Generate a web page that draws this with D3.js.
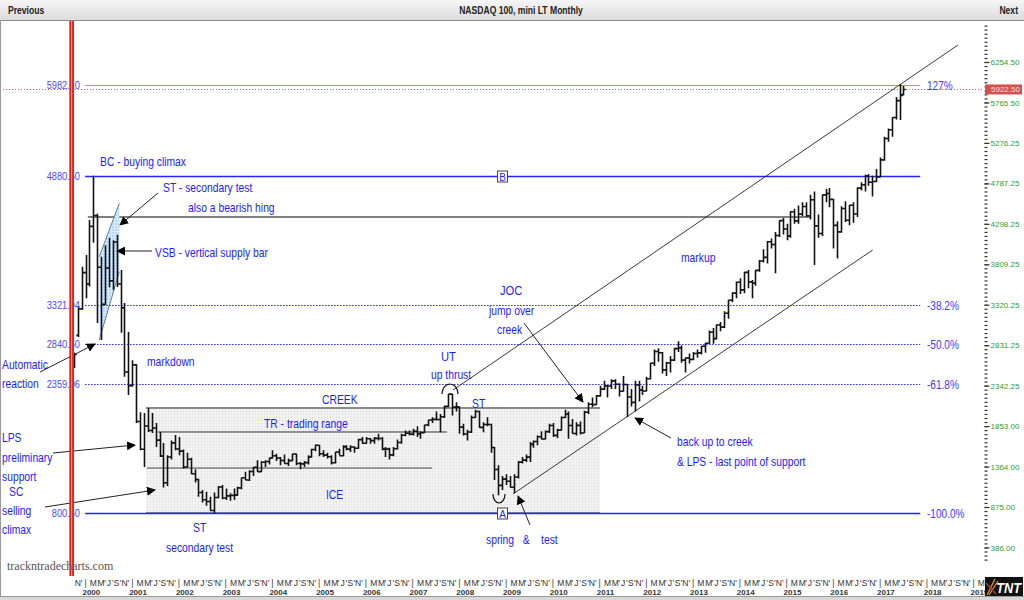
<!DOCTYPE html>
<html>
<head>
<meta charset="utf-8">
<script src="https://cdn.jsdelivr.net/npm/d3@7"></script>
<style>
body{margin:0;background:#fff;overflow:hidden}
svg{display:block}
</style>
</head>
<body>
<svg id="chart" width="1024" height="600"></svg>
<script>
// months counted from Jan 2000 (Oct 1999 = -3)
const firstMonth = -3;

// monthly OHLC, Oct 1999 .. Jul 2017, one row per year
const opens = [
  2580,2950,3270,
  3708,3570,4267,4398,3774,3324,3764,3609,4078,3571,3283,2507,
  2342,2593,1908,1573,1855,1800,1830,1684,1490,1168,1480,1650,
  1577,1550,1359,1452,1277,1208,1051,962,942,833,989,1117,
  984,1010,1016,1018,1106,1228,1201,1304,1355,1303,1416,1425,
  1468,1494,1467,1438,1400,1436,1516,1401,1396,1412,1480,1571,
  1621,1519,1502,1483,1410,1539,1494,1605,1575,1601,1585,1690,
  1645,1700,1677,1704,1703,1575,1575,1505,1580,1655,1743,1767,
  1756,1791,1761,1772,1866,1926,1934,1932,1966,2092,2239,2082,
  2085,1841,1758,1781,1957,2029,1837,1872,1872,1594,1329,1136,
  1212,1187,1113,1237,1418,1442,1478,1632,1666,1724,1697,1786,
  1860,1741,1804,1957,2000,1860,1764,1862,1770,2020,2117,2112,
  2218,2300,2340,2338,2400,2358,2274,2355,2205,2140,2350,2290,
  2278,2426,2612,2755,2739,2533,2616,2650,2790,2800,2650,2678,
  2660,2730,2738,2818,2855,2988,2910,3076,3049,3218,3375,3460,
  3592,3500,3711,3596,3580,3736,3849,3893,4082,4049,4158,4337,
  4236,4152,4445,4334,4415,4508,4396,4589,4274,4181,4648,4665,
  4594,4279,4201,4483,4341,4523,4417,4730,4771,4875,4801,4810,
  4864,5071,5330,5436,5584,5788,5860
];
const highs = [
  2740,3295,3780,
  3920,4345,4880.5,4420,3900,4040,4130,4100,4165,3740,3340,2990,
  2650,2600,2020,2010,2072,2011,1890,1782,1649,1500,1680,1745,
  1720,1570,1530,1470,1330,1215,1080,1060,1000,1050,1130,1140,
  1100,1040,1100,1120,1230,1300,1320,1360,1440,1430,1440,1470,
  1560,1520,1480,1510,1460,1520,1520,1420,1430,1500,1580,1630,
  1625,1560,1530,1500,1540,1580,1620,1620,1620,1610,1700,1720,
  1720,1710,1720,1760,1720,1600,1590,1600,1690,1760,1800,1800,
  1820,1850,1790,1870,1930,1960,2030,2000,2100,2240,2240,2140,
  2090,1880,1810,1980,2050,2040,1900,1960,1880,1600,1380,1250,
  1270,1250,1270,1430,1480,1510,1660,1680,1740,1790,1800,1880,
  1890,1820,1970,2050,2030,1940,1900,1910,2040,2140,2200,2230,
  2340,2400,2350,2420,2420,2370,2460,2360,2300,2400,2400,2340,
  2450,2620,2780,2795,2750,2630,2700,2800,2880,2830,2680,2730,
  2750,2780,2820,2860,3010,3040,3080,3110,3240,3380,3470,3600,
  3640,3720,3740,3620,3740,3860,3990,4090,4120,4200,4340,4370,
  4300,4450,4480,4520,4560,4560,4650,4690,4410,4650,4720,4730,
  4600,4330,4510,4570,4530,4560,4740,4800,4890,4900,4880,4960,
  5100,5350,5450,5590,5830,5985,5965
];
const lows = [
  2555,2930,3260,
  3400,3540,4070,3100,2895,3320,3530,3500,3535,2980,2450,2230,
  2330,1890,1560,1360,1782,1770,1600,1480,1110,1130,1450,1560,
  1500,1340,1350,1270,1170,1000,930,890,830,800.5,980,970,
  960,950,960,1010,1090,1200,1190,1250,1300,1300,1360,1390,
  1460,1430,1380,1400,1370,1430,1380,1330,1360,1390,1470,1550,
  1490,1480,1460,1390,1400,1500,1490,1560,1540,1530,1580,1640,
  1640,1640,1640,1680,1560,1480,1450,1490,1570,1640,1730,1740,
  1740,1720,1700,1770,1850,1890,1920,1780,1950,2080,1980,2030,
  1760,1740,1680,1770,1950,1830,1780,1850,1530,1200,1018,1080,
  1140,1110,1043,1220,1400,1420,1420,1590,1620,1690,1690,1770,
  1720,1710,1800,1950,1700,1760,1740,1750,1770,2000,2080,2110,
  2210,2290,2200,2300,2300,2210,2270,1960,2090,2030,2150,2230,
  2270,2420,2580,2630,2490,2460,2500,2640,2750,2620,2500,2610,
  2650,2680,2720,2740,2850,2850,2900,3000,3040,3150,3350,3400,
  3450,3460,3520,3400,3550,3720,3830,3820,4000,3700,4140,4170,
  4100,4130,4300,4300,4390,4380,4350,3800,4130,4150,4560,4500,
  4000,3880,4190,4320,4280,4310,4380,4700,4690,4760,4630,4800,
  4860,5060,5290,5350,5560,5553,5850
];
const closes = [
  2720,3270,3708,
  3570,4267,4398,3774,3324,3764,3609,4078,3571,3283,2507,2342,
  2593,1908,1573,1855,1800,1830,1684,1490,1168,1480,1650,1577,
  1550,1359,1452,1277,1208,1051,962,942,833,989,1117,984,
  1010,1016,1018,1106,1228,1201,1304,1355,1303,1416,1425,1468,
  1494,1467,1438,1400,1436,1516,1401,1396,1412,1480,1571,1621,
  1519,1502,1483,1410,1539,1494,1605,1575,1601,1585,1690,1645,
  1700,1677,1704,1703,1575,1575,1505,1580,1655,1743,1767,1756,
  1791,1761,1772,1866,1926,1934,1932,1966,2092,2239,2082,2085,
  1841,1758,1781,1957,2029,1837,1872,1872,1594,1329,1136,1212,
  1187,1113,1237,1418,1442,1478,1632,1666,1724,1697,1786,1860,
  1741,1804,1957,2000,1860,1764,1862,1770,2020,2117,2112,2218,
  2300,2340,2338,2400,2358,2274,2355,2205,2140,2350,2290,2278,
  2426,2612,2755,2739,2533,2616,2650,2790,2800,2650,2678,2660,
  2730,2738,2818,2855,2988,2910,3076,3049,3218,3375,3460,3592,
  3500,3711,3596,3580,3736,3849,3893,4082,4049,4158,4337,4236,
  4152,4445,4334,4415,4508,4396,4589,4274,4181,4648,4665,4594,
  4279,4201,4483,4341,4523,4417,4730,4771,4875,4801,4810,4864,
  5071,5330,5436,5584,5788,5850,5922.5
];
const lastPrice = 5922.50;

// Fibonacci levels (price, left label, right label)
const fibLevels = [5982.10, 4880.50, 3321.94, 2840.50, 2359.06, 800.50];
const fibNames  = ["5982.10","4880.50","3321.94","2840.50","2359.06","800.50"];
const fibPcts   = ["127%", "", "-38.2%", "-50.0%", "-61.8%", "-100.0%"];

// right price axis
const axisTicks = [6254.50,5765.50,5276.25,4787.25,4298.25,3809.25,3320.25,2831.25,2342.25,1853.00,1364.00,875.00,386.00];

// time axis
const monthMarks = ["|","","M","","M","'","J","'","S","'","N","'"];
const years = d3.range(2000, 2020);

const bars = opens.map((o, i) => ({
  m: firstMonth + i, o: o, h: highs[i], l: lows[i], c: closes[i]
}));

const svg = d3.select("#chart");
const x = d3.scaleLinear().domain([0, 12]).range([85.5, 85.5 + 46.74]);
const y = d3.scaleLinear().domain([875, 6254.5]).range([507, 62]);

const defs = svg.append("defs");
const hg = defs.append("linearGradient").attr("id","hdr").attr("x1",0).attr("y1",0).attr("x2",0).attr("y2",1);
hg.append("stop").attr("offset","0%").attr("stop-color","#f6f6f6");
hg.append("stop").attr("offset","100%").attr("stop-color","#dcdcdc");

const grey = defs.append("pattern").attr("id","trgrid").attr("width",3).attr("height",3)
  .attr("patternUnits","userSpaceOnUse");
grey.append("rect").attr("width",3).attr("height",3).attr("fill","#f5f5f5");
grey.append("path").attr("d","M0,0.5H3M0.5,0V3").attr("stroke","#e4e4e4").attr("stroke-width",0.6);

const blue = defs.append("pattern").attr("id","vsbgrid").attr("width",3).attr("height",3)
  .attr("patternUnits","userSpaceOnUse");
blue.append("rect").attr("width",3).attr("height",3).attr("fill","#b4d8ff");
blue.append("path").attr("d","M0,0.5H3M0.5,0V3").attr("stroke","#e8f3ff").attr("stroke-width",0.7);

const mk = defs.append("marker").attr("id","arrow").attr("viewBox","0 0 10 10")
  .attr("refX",9).attr("refY",5).attr("markerWidth",9).attr("markerHeight",9)
  .attr("orient","auto").attr("markerUnits","userSpaceOnUse");
mk.append("path").attr("d","M0,0L10,5L0,10z").attr("fill","#000");

defs.append("clipPath").attr("id","plotclip").append("rect")
  .attr("x",1).attr("y",21).attr("width",983).attr("height",555);

// narrow text helper: the reference uses condensed faces
function narrow(sel, tx, ty, str, font, fill, anchor, sx) {
  return sel.append("text")
    .attr("transform", `translate(${tx},${ty}) scale(${sx || 0.86},1)`)
    .attr("text-anchor", anchor || "start")
    .style("font", font).style("white-space","pre")
    .attr("fill", fill).text(str);
}

// frame + header
svg.append("rect").attr("width",1024).attr("height",600).attr("fill","#fff");
svg.append("rect").attr("width",1024).attr("height",20).attr("fill","url(#hdr)");
svg.append("line").attr("x1",0).attr("x2",1024).attr("y1",20.5).attr("y2",20.5).attr("stroke","#8a8a8a");
svg.append("rect").attr("x",0).attr("y",596).attr("width",1024).attr("height",4).attr("fill","#d8d8d8");
svg.append("line").attr("x1",0).attr("x2",1024).attr("y1",596.5).attr("y2",596.5).attr("stroke","#9a9a9a");
svg.append("line").attr("x1",0.5).attr("x2",0.5).attr("y1",20).attr("y2",597).attr("stroke","#9a9a9a");

const hdrFont = "bold 11px 'Liberation Sans',Arial,sans-serif";
narrow(svg, 8, 14, "Previous", hdrFont, "#222", "start", 0.78);
narrow(svg, 521, 14, "NASDAQ 100, mini LT Monthly", hdrFont, "#222", "middle", 0.78);
narrow(svg, 1018, 14, "Next", hdrFont, "#222", "end", 0.78);

const plot = svg.append("g").attr("clip-path","url(#plotclip)");

// trading range box
plot.append("rect")
  .attr("x", x(15.5)).attr("y", y(2072))
  .attr("width", x(132.1) - x(15.5)).attr("height", y(805) - y(2072))
  .attr("fill","url(#trgrid)");
plot.append("line").attr("x1",x(15.5)).attr("x2",x(132.1)).attr("y1",y(2072)).attr("y2",y(2072))
  .attr("stroke","#222").attr("stroke-width",1);
plot.append("line").attr("x1",x(15.5)).attr("x2",x(132.1)).attr("y1",y(805)).attr("y2",y(805))
  .attr("stroke","#666").attr("stroke-width",1);
plot.append("line").attr("x1",x(18.6)).attr("x2",x(92.8)).attr("y1",y(1782)).attr("y2",y(1782))
  .attr("stroke","#333").attr("stroke-width",1);
plot.append("line").attr("x1",x(15.8)).attr("x2",x(89)).attr("y1",y(1346)).attr("y2",y(1346))
  .attr("stroke","#444").attr("stroke-width",1);

// bearish hinge line
plot.append("line").attr("x1",x(0.6)).attr("x2",x(186)).attr("y1",y(4381)).attr("y2",y(4381))
  .attr("stroke","#555").attr("stroke-width",1.3);

// VSB parallelogram
const vsb = [[3.54,3901],[8.68,4546],[8.68,3720],[3.54,2894]];
plot.append("path")
  .attr("d", "M" + vsb.map(p => x(p[0]) + "," + y(p[1])).join("L") + "Z")
  .attr("fill","url(#vsbgrid)");
plot.append("line").attr("x1",x(3.54)).attr("y1",y(3901)).attr("x2",x(8.68)).attr("y2",y(4546))
  .attr("stroke","#3a5a8a").attr("stroke-width",0.8);
plot.append("line").attr("x1",x(3.54)).attr("y1",y(2894)).attr("x2",x(8.68)).attr("y2",y(3720))
  .attr("stroke","#3a5a8a").attr("stroke-width",0.8);

// fib lines
fibLevels.forEach((p, i) => {
  const solid = i === 1 || i === 5;
  plot.append("line")
    .attr("x1", x(-0.1)).attr("x2", x(214.3))
    .attr("y1", Math.round(y(p)) + 0.5).attr("y2", Math.round(y(p)) + 0.5)
    .attr("stroke", i === 0 ? "#9090ff" : "#2424ff")
    .attr("stroke-width", solid ? 1.3 : 1)
    .attr("stroke-dasharray", (i >= 2 && i <= 4) ? "1.5,1.5" : null);
});

// last price dotted line
plot.append("line").attr("x1",0).attr("x2",985)
  .attr("y1",Math.round(y(lastPrice)) + 0.5).attr("y2",Math.round(y(lastPrice)) + 0.5)
  .attr("stroke","#e04848").attr("stroke-width",0.9).attr("stroke-dasharray","1,2");

// channel lines
plot.append("line").attr("x1",x(94.35)).attr("y1",y(2289)).attr("x2",x(224)).attr("y2",y(6460))
  .attr("stroke","#222").attr("stroke-width",0.9);
plot.append("line").attr("x1",x(109.76)).attr("y1",y(1032)).attr("x2",x(202.1)).attr("y2",y(3982))
  .attr("stroke","#222").attr("stroke-width",0.9);

// OHLC bars
plot.append("g").selectAll("path").data(bars).enter().append("path")
  .attr("d", d => {
    const cx = Math.round(x(d.m)) + 0.5;
    return "M" + cx + "," + y(d.h) + "V" + y(d.l) +
      "M" + (cx - 2.2) + "," + y(d.o) + "H" + cx +
      "M" + cx + "," + y(d.c) + "H" + (cx + 2.2);
  })
  .attr("fill","none").attr("stroke","#111").attr("stroke-width",1.6);

// A / B boxes
[["B", 4880.50], ["A", 800.50]].forEach(b => {
  const cy = Math.round(y(b[1])) + 0.5;
  plot.append("rect").attr("x",497.5).attr("y",cy - 5.5).attr("width",10).attr("height",11)
    .attr("fill","#fff").attr("stroke","#444").attr("stroke-width",1);
  plot.append("text").attr("x",502.5).attr("y",cy + 4).attr("text-anchor","middle").text(b[0])
    .style("font","10px 'Liberation Sans',sans-serif").attr("fill","#2424ff");
});

// arcs
plot.append("path").attr("d","M442,394 A8,10 0 0 1 458,394").attr("fill","none").attr("stroke","#111").attr("stroke-width",1.2);
plot.append("path").attr("d","M493,494 A6,9 0 0 0 505,494").attr("fill","none").attr("stroke","#111").attr("stroke-width",1.2);

// arrows
const arrows = [
  [158,193,120,225],[152,251,117,251],[40,372,95,344],[53,453,135,445],
  [45,507,155,490],[524,323,583,402],[530,525,518,496],[671,438,635,418]
];
plot.append("g").selectAll("line").data(arrows).enter().append("line")
  .attr("x1",d => d[0]).attr("y1",d => d[1]).attr("x2",d => d[2]).attr("y2",d => d[3])
  .attr("stroke","#222").attr("stroke-width",1).attr("marker-end","url(#arrow)");

// annotation text
const noteFont = "12px 'Comic Sans MS','Liberation Sans',Arial,sans-serif";
const notes = [
  ["BC - buying climax",100,166],
  ["ST - secondary test",163,192],
  ["also a bearish hing",188,212],
  ["VSB - vertical supply bar",155,257],
  ["markdown",147,366],
  ["Automatic",2,369],
  ["reaction",2,388],
  ["LPS",2,442],
  ["preliminary",2,462],
  ["support",2,481],
  ["SC",9,496],
  ["selling",2,515],
  ["climax",2,534],
  ["CREEK",322,404],
  ["TR - trading range",264,428],
  ["ICE",326,499],
  ["ST",193,532],
  ["secondary test",166,552],
  ["UT",441,361],
  ["up thrust",431,379],
  ["ST",472,408],
  ["JOC",500,295],
  ["jump over",489,315],
  ["creek",497,334],
  ["spring   &    test",486,544],
  ["markup",681,262],
  ["back up to creek",677,446],
  ["& LPS - last point of support",677,466]
];
const noteG = svg.append("g");
notes.forEach(n => {
  const big = n[0] === "UT" || n[0] === "JOC";
  narrow(noteG, n[1], n[2], n[0], big ? "13px 'Liberation Sans',Arial,sans-serif" : noteFont, "#1c1cff", "start", 0.86);
});

// fib labels
const numFont = "11px 'Liberation Sans',Arial,sans-serif";
fibLevels.forEach((p, i) => {
  narrow(plot, 80, y(p) + 4, fibNames[i], numFont, "#4a4aff", "end", 0.84);
  if (fibPcts[i]) {
    narrow(plot, 927, y(p) + 5, fibPcts[i], "12px 'Liberation Sans',Arial,sans-serif", "#3a3aff", "start", 0.84);
  }
});

// red start marker
svg.append("rect").attr("x",69.3).attr("y",21).attr("width",4.7).attr("height",555).attr("fill","#e8201c");
svg.append("line").attr("x1",71.6).attr("x2",71.6).attr("y1",21).attr("y2",576).attr("stroke","#ffd8d8").attr("stroke-width",0.8);

// right price axis
const minor = d3.range(-3, 132).map(k => 386 + k * 48.904).filter(v => y(v) > 24 && y(v) < 574);
svg.append("g").attr("transform","translate(984.5,0)")
  .call(d3.axisRight(y).tickValues(minor).tickSize(3).tickFormat(""))
  .call(g => g.select(".domain").remove())
  .call(g => g.selectAll("line").attr("stroke","#333").attr("stroke-width",1.2));
const ra = svg.append("g").attr("transform","translate(984.5,0)")
  .call(d3.axisRight(y).tickValues(axisTicks).tickSize(5).tickPadding(1).tickFormat(d3.format(".2f")));
ra.select(".domain").remove();
ra.selectAll("line").attr("stroke","#333").attr("stroke-width",1.2);
ra.selectAll("text").style("font","8px 'Liberation Sans',Arial,sans-serif").attr("fill","#2f9e2f");

// last price tag
const ly = y(lastPrice);
svg.append("rect").attr("x",985).attr("y",ly - 5).attr("width",37).attr("height",10).attr("fill","#d25050");
svg.append("text").attr("x",991).attr("y",ly + 3).text(d3.format(".2f")(lastPrice))
  .style("font","8px 'Liberation Sans',Arial,sans-serif").attr("fill","#f4e0e0");

// time axis
const axisFont = "8.5px 'Liberation Sans',Arial,sans-serif";
const monthIdx = d3.range(-2, 232);
svg.append("g").selectAll("text").data(monthIdx).enter().append("text")
  .attr("x", m => x(m)).attr("y", 586).attr("text-anchor","middle")
  .text(m => monthMarks[((m % 12) + 12) % 12])
  .style("font", axisFont).attr("fill","#333");
svg.append("g").selectAll("text").data(years).enter().append("text")
  .attr("x", yr => x((yr - 2000) * 12 + 1.5)).attr("y", 594.5).attr("text-anchor","middle")
  .text(yr => yr).style("font", "bold 8px 'Liberation Sans',Arial,sans-serif").attr("fill","#333");

// watermark
svg.append("text").attr("x",7).attr("y",570).text("trackntradecharts.com")
  .style("font","12px 'Liberation Serif','DejaVu Serif',serif").attr("fill","#555");

// TNT logo
svg.append("rect").attr("x",985).attr("y",577).attr("width",38).attr("height",19).attr("fill","#111");
svg.append("path").attr("d","M987,595 L995,579 M989,595 L998,581").attr("stroke","#e0a020").attr("stroke-width",1.2);
svg.append("path").attr("d","M986,583 L996,594").attr("stroke","#d03020").attr("stroke-width",1.2);
narrow(svg, 1021, 593, "TNT", "bold italic 15px 'Liberation Sans',Arial,sans-serif", "#fff", "end", 0.85);
</script>
</body>
</html>
